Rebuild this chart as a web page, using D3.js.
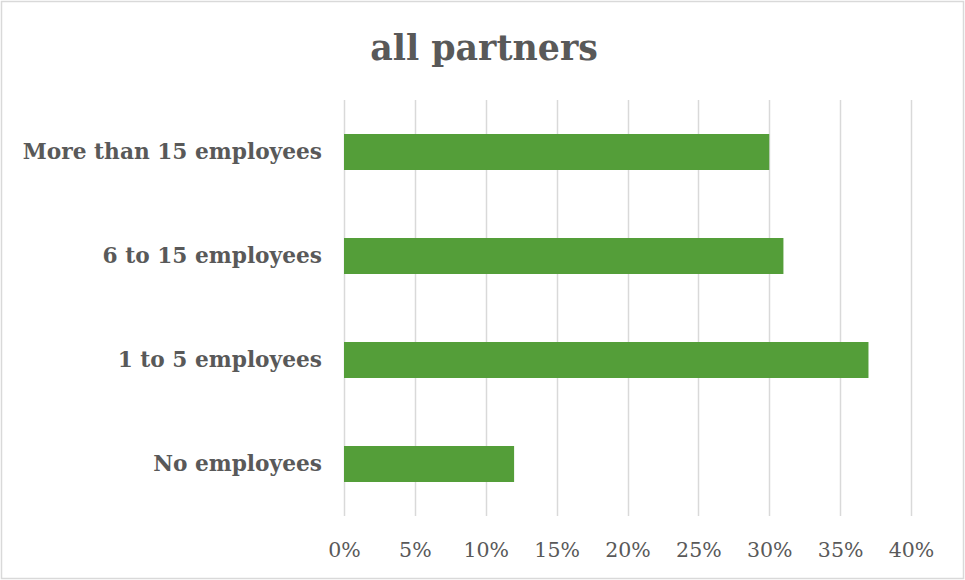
<!DOCTYPE html>
<html>
<head>
<meta charset="utf-8">
<script src="https://cdn.jsdelivr.net/npm/d3@7"></script>
<style>
  html, body { margin: 0; padding: 0; background: #fff; }
  svg { display: block; }
  text { font-family: "DejaVu Serif", "Liberation Serif", serif; fill: #595959; }
</style>
</head>
<body>
<svg id="chart" width="965" height="580"></svg>
<script>
const title = "all partners";
const categories = ["More than 15 employees", "6 to 15 employees", "1 to 5 employees", "No employees"];
const values = [0.30, 0.31, 0.37, 0.12];
const tickValues = [0, 0.05, 0.10, 0.15, 0.20, 0.25, 0.30, 0.35, 0.40];

const W = 965, H = 580;
const margin = { top: 100, right: 54, bottom: 64, left: 344 };
const svg = d3.select("#chart");

svg.append("rect")
  .attr("x", 1.5).attr("y", 1.5)
  .attr("width", W - 3).attr("height", H - 3)
  .attr("fill", "#fff").attr("stroke", "#d9d9d9").attr("stroke-width", 1.5);

const x = d3.scaleLinear().domain([0, 0.40]).range([margin.left, W - margin.right]);
const y = d3.scaleBand().domain(categories).range([margin.top, H - margin.bottom])
  .paddingInner(0.654).paddingOuter(0.327);

// gridlines
svg.append("g").selectAll("line").data(tickValues).join("line")
  .attr("x1", d => Math.round(x(d)) + 0.5).attr("x2", d => Math.round(x(d)) + 0.5)
  .attr("y1", margin.top).attr("y2", H - margin.bottom)
  .attr("stroke", "#d9d9d9").attr("stroke-width", 1.5);

// bars
svg.append("g").selectAll("rect").data(categories).join("rect")
  .attr("x", x(0))
  .attr("y", d => y(d))
  .attr("width", (d, i) => x(values[i]) - x(0))
  .attr("height", y.bandwidth())
  .attr("fill", "#549e39");

// x axis labels
const xAxis = d3.axisBottom(x).tickValues(tickValues).tickFormat(d3.format(".0%")).tickSize(0).tickPadding(0);
const gx = svg.append("g").attr("transform", `translate(0,${H - margin.bottom + 27})`).call(xAxis);
gx.select(".domain").remove();
gx.selectAll("text").attr("font-size", 20.5).attr("font-family", "DejaVu Serif").attr("fill", "#595959")
  .attr("dy", "0.68em");

// y axis labels
const yAxis = d3.axisLeft(y).tickSize(0).tickPadding(22);
const gy = svg.append("g").attr("transform", `translate(${margin.left},0)`).call(yAxis);
gy.select(".domain").remove();
gy.selectAll("text").attr("font-size", 21.7).attr("font-weight", "bold")
  .attr("font-family", "DejaVu Serif").attr("fill", "#595959");

// title
svg.append("text")
  .attr("x", 484).attr("y", 60)
  .attr("text-anchor", "middle")
  .attr("font-size", 34.8).attr("font-weight", "bold")
  .text(title);
</script>
</body>
</html>
